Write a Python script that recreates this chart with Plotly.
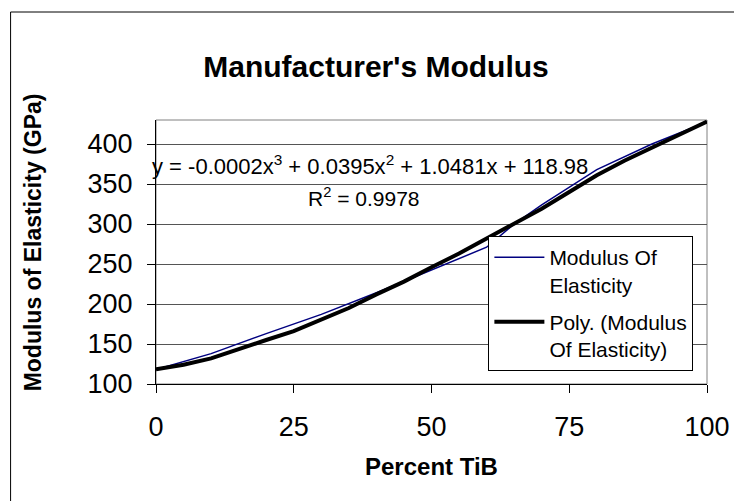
import plotly.graph_objects as go

# Modulus of elasticity data (GPa) vs percent TiB
pct = [0, 10, 20, 30, 40, 50, 60, 65, 70, 80, 90, 100]
modulus = [118, 138, 163, 187, 214, 242, 271, 300, 324, 368, 400, 427.5]

# polynomial trendline as drawn
poly_x = [0, 5, 10, 15, 20, 25, 30, 35, 40, 45, 50, 55, 60, 65, 70, 75, 80, 85, 90, 95, 100]
poly_y = [118.5, 124, 132, 144, 155, 166, 180, 195, 212, 228, 246, 263, 282, 300, 319, 340, 361, 379, 395, 411, 428]

x_ticks = [0, 25, 50, 75, 100]
y_ticks = [100, 150, 200, 250, 300, 350, 400]

FONT = "Arial, Liberation Sans, sans-serif"

# page body has an 8px margin, so the figure is 8px smaller than the window
W, H, OFF = 734, 493, 8

fig = go.Figure()

fig.add_trace(go.Scatter(
    x=pct, y=modulus, mode="lines",
    line=dict(color="#000080", width=1.5),
    legendgroup="a",
    name="Modulus Of<br>Elasticity"))

fig.add_trace(go.Scatter(
    x=poly_x, y=poly_y, mode="lines",
    line=dict(color="black", width=4),
    legendgroup="b",
    name="Poly. (Modulus<br>Of Elasticity)"))

fig.update_layout(
    width=W, height=H,
    margin=dict(l=156-OFF, r=742-713, t=120-OFF, b=501-384),
    paper_bgcolor="white", plot_bgcolor="white",
    font=dict(family=FONT, color="black", size=20),
    title=dict(text="<b>Manufacturer's Modulus</b>", x=(376-OFF)/W, xanchor="center",
               y=1-(66-OFF)/H, yanchor="middle", font=dict(size=30)),
    showlegend=True,
    legend=dict(x=(492-156)/557, y=(384-236)/264, xanchor="left", yanchor="top",
                bordercolor="black", borderwidth=1, bgcolor="white",
                font=dict(size=21), valign="top", itemwidth=50,
                tracegroupgap=7),
)

fig.update_xaxes(
    range=[0, 100], tickvals=x_ticks, showgrid=False, zeroline=False,
    showline=True, linecolor="black", linewidth=1,
    ticks="outside", ticklen=8, tickcolor="black",
    tickfont=dict(size=27), ticklabelstandoff=11)

fig.update_yaxes(
    range=[100, 430], tickvals=y_ticks, showgrid=True, gridcolor="#555",
    gridwidth=1, zeroline=False,
    showline=True, linecolor="black", linewidth=1,
    ticks="outside", ticklen=8, tickcolor="black",
    tickfont=dict(size=27), ticklabelstandoff=9)

# plot area border and chart frame (frame runs off the right and bottom edges)
fig.add_shape(type="rect", xref="paper", yref="paper", x0=0, x1=1, y0=0, y1=1,
              line=dict(color="#808080", width=1), layer="below")
fig.add_shape(type="rect", xref="paper", yref="paper",
              x0=(9-156)/557, x1=(760-156)/557, y0=(384-520)/264, y1=(384-12)/264,
              line=dict(color="black", width=1))

fig.add_annotation(
    text="y = -0.0002x<sup>3</sup> + 0.0395x<sup>2</sup> + 1.0481x + 118.98",
    xref="paper", yref="paper", x=(150-156)/557, y=(384-165)/264,
    xanchor="left", yanchor="middle", showarrow=False, font=dict(size=22))
fig.add_annotation(
    text="R<sup>2</sup> = 0.9978",
    xref="paper", yref="paper", x=(366-156)/557, y=(384-197)/264,
    xanchor="center", yanchor="middle", showarrow=False, font=dict(size=21))

fig.add_annotation(
    text="<b>Percent TiB</b>", xref="paper", yref="paper",
    x=0.5, y=(384-466)/264, xanchor="center", yanchor="middle",
    showarrow=False, font=dict(size=24))
fig.add_annotation(
    text="<b>Modulus of Elasticity (GPa)</b>", xref="paper", yref="paper",
    x=(32-156)/557, y=(384-242)/264, xanchor="center", yanchor="middle", textangle=-90,
    showarrow=False, font=dict(size=23))

fig.write_html("out.html")
